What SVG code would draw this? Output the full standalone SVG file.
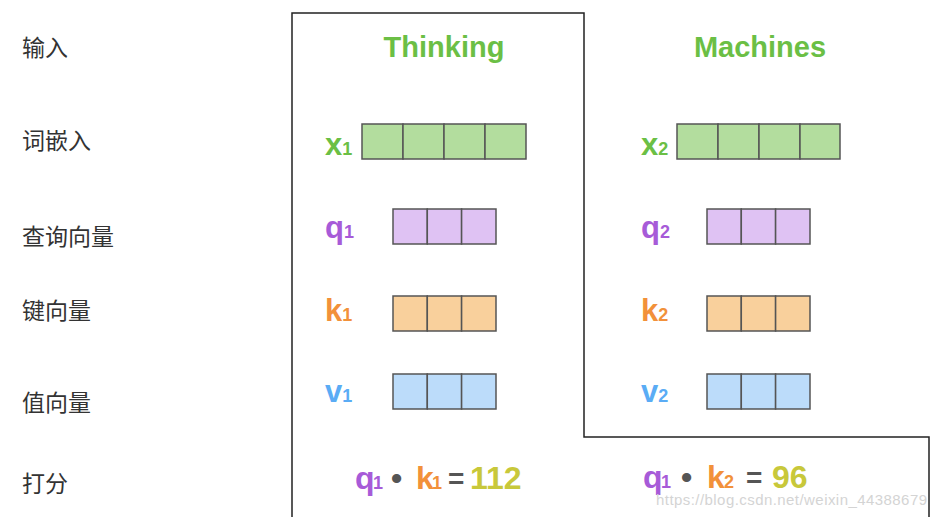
<svg xmlns="http://www.w3.org/2000/svg" width="937" height="517" viewBox="0 0 937 517">
<style>
.cn{font-family:"Noto Sans CJK SC","Noto Sans",sans-serif;font-size:23px;fill:#333}
.b{font-family:"Liberation Sans",Arial,sans-serif;font-weight:bold}
.t{font-size:29px;fill:#6bbf45;text-anchor:middle}
.l{font-size:31px}
.s{font-size:18px}
.sc{font-size:32px}
.eq{font-size:28px}
.g{fill:#6bbf45}.p{fill:#a75bd8}.o{fill:#f2913a}.bl{fill:#5aacf5}.y{fill:#c8c83a}.d{fill:#555}
.cell{stroke:#555;stroke-width:1.5}
.cg{fill:#b3dd9e}.cp{fill:#dfc2f3}.co{fill:#f9d09c}.cb{fill:#bcdcfa}
.wm{font-family:"Liberation Sans",Arial,sans-serif;font-size:15px;fill:#d4d4d4}
</style>
<g id="outline"><path d="M292,517 V13 H584 V437 H929 V517" fill="none" stroke="#222" stroke-width="1.5"/></g>
<g id="row-labels">
<text class="cn" x="22" y="56">输入</text>
<text class="cn" x="22" y="149">词嵌入</text>
<text class="cn" x="22" y="245">查询向量</text>
<text class="cn" x="22" y="319">键向量</text>
<text class="cn" x="22" y="411">值向量</text>
<text class="cn" x="22" y="492">打分</text>
</g>
<g id="word-thinking"><text class="b t" x="444" y="57">Thinking</text></g>
<g id="word-machines"><text class="b t" x="760" y="57">Machines</text></g>
<g id="x1">
<text class="b g" x="325" y="155"><tspan class="l">x</tspan><tspan class="s">1</tspan></text>
<rect class="cell cg" x="362" y="124" width="41" height="35"/><rect class="cell cg" x="403" y="124" width="41" height="35"/><rect class="cell cg" x="444" y="124" width="41" height="35"/><rect class="cell cg" x="485" y="124" width="41" height="35"/>
</g>
<g id="x2">
<text class="b g" x="641" y="155"><tspan class="l">x</tspan><tspan class="s">2</tspan></text>
<rect class="cell cg" x="677" y="124" width="41" height="35"/><rect class="cell cg" x="718" y="124" width="41" height="35"/><rect class="cell cg" x="759" y="124" width="41" height="35"/><rect class="cell cg" x="800" y="124" width="40" height="35"/>
</g>
<g id="q1">
<text class="b p" x="325" y="238"><tspan class="l">q</tspan><tspan class="s">1</tspan></text>
<rect class="cell cp" x="393" y="209" width="34.3" height="35"/><rect class="cell cp" x="427.3" y="209" width="34.3" height="35"/><rect class="cell cp" x="461.6" y="209" width="34.4" height="35"/>
</g>
<g id="q2">
<text class="b p" x="641" y="238"><tspan class="l">q</tspan><tspan class="s">2</tspan></text>
<rect class="cell cp" x="707" y="209" width="34.3" height="35"/><rect class="cell cp" x="741.3" y="209" width="34.3" height="35"/><rect class="cell cp" x="775.6" y="209" width="34.4" height="35"/>
</g>
<g id="k1">
<text class="b o" x="325" y="321"><tspan class="l">k</tspan><tspan class="s">1</tspan></text>
<rect class="cell co" x="393" y="296" width="34.3" height="35"/><rect class="cell co" x="427.3" y="296" width="34.3" height="35"/><rect class="cell co" x="461.6" y="296" width="34.4" height="35"/>
</g>
<g id="k2">
<text class="b o" x="641" y="321"><tspan class="l">k</tspan><tspan class="s">2</tspan></text>
<rect class="cell co" x="707" y="296" width="34.3" height="35"/><rect class="cell co" x="741.3" y="296" width="34.3" height="35"/><rect class="cell co" x="775.6" y="296" width="34.4" height="35"/>
</g>
<g id="v1">
<text class="b bl" x="325" y="402"><tspan class="l">v</tspan><tspan class="s">1</tspan></text>
<rect class="cell cb" x="393" y="374" width="34.3" height="35"/><rect class="cell cb" x="427.3" y="374" width="34.3" height="35"/><rect class="cell cb" x="461.6" y="374" width="34.4" height="35"/>
</g>
<g id="v2">
<text class="b bl" x="641" y="402"><tspan class="l">v</tspan><tspan class="s">2</tspan></text>
<rect class="cell cb" x="707" y="374" width="34.3" height="35"/><rect class="cell cb" x="741.3" y="374" width="34.3" height="35"/><rect class="cell cb" x="775.6" y="374" width="34.4" height="35"/>
</g>
<g id="score1">
<text class="b sc p" x="355" y="489">q</text><text class="b s p" x="373" y="489">1</text>
<text class="b sc d" x="391" y="489">•</text>
<text class="b sc o" x="416" y="489">k</text><text class="b s o" x="432" y="489">1</text>
<text class="b eq d" x="448" y="488">=</text>
<text class="b sc y" x="470" y="489">112</text>
</g>
<g id="score2">
<text class="b sc p" x="643" y="488">q</text><text class="b s p" x="661" y="488">1</text>
<text class="b sc d" x="681" y="488">•</text>
<text class="b sc o" x="707" y="488">k</text><text class="b s o" x="724" y="488">2</text>
<text class="b eq d" x="746" y="487">=</text>
<text class="b sc y" x="772" y="488">96</text>
</g>
<g id="watermark"><text class="wm" x="656" y="505" textLength="271">https://blog.csdn.net/weixin_44388679</text></g>
</svg>
